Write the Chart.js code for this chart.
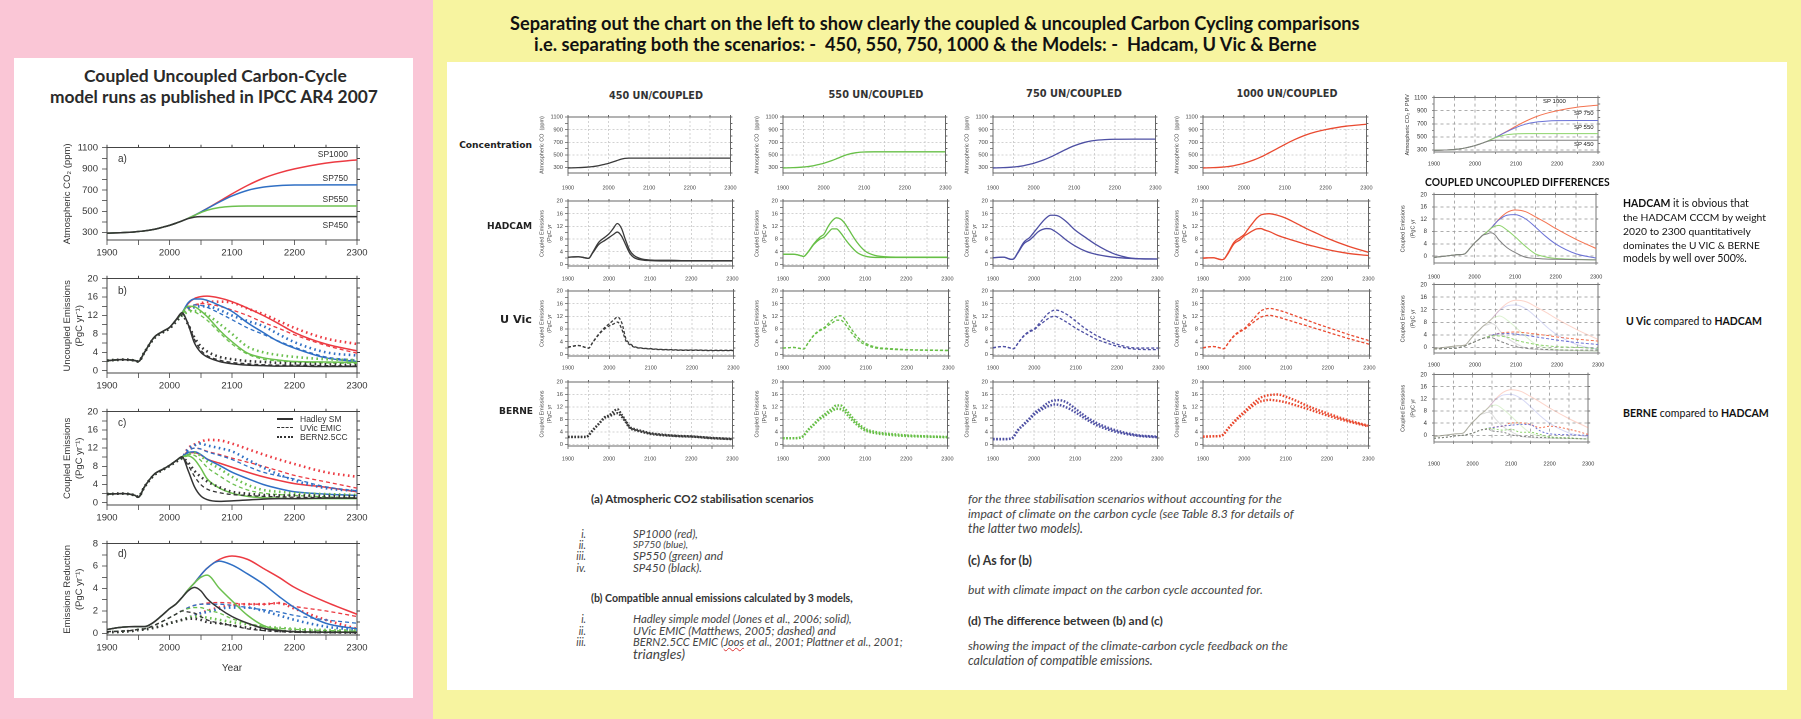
<!DOCTYPE html>
<html><head><meta charset="utf-8">
<script src="https://cdn.jsdelivr.net/npm/chart.js@4.4.1/dist/chart.umd.min.js"></script>
<style>
html,body{margin:0;padding:0}
body{width:1801px;height:719px;position:relative;overflow:hidden;background:#f7f4a0;font-family:Lato,sans-serif}
.bx{position:absolute}
</style></head>
<body>
<div class="bx" style="left:0;top:0;width:433px;height:719px;background:#fac6d6"></div>
<div class="bx" style="left:14px;top:58px;width:399px;height:640px;background:#fff"></div>
<div class="bx" style="left:447px;top:62px;width:1340px;height:628px;background:#fff"></div>
<script>
// ---------------- DATA ----------------
const YEARS = [1900,1925,1945,1950,1960,1975,1990,2000,2010,2020,2030,2040,2050,2060,2080,2100,2125,2150,2175,2200,2250,2300];
const X_LABELS = [1900,2000,2100,2200,2300];
const CONC_TICKS = [300,500,700,900,1100];
const EMI_TICKS = [0,4,8,12,16,20];
const RED_TICKS = [0,2,4,6,8];

// a) atmospheric CO2 (ppm)
const CONC_450  = [295,300,307,310,316,330,352,368,388,410,432,446,450,450,450,450,450,450,450,450,450,450];
const CONC_550  = [295,300,307,310,316,330,352,368,388,410,435,462,488,510,536,547,550,550,550,550,550,550];
const CONC_750  = [295,300,307,310,316,330,352,368,388,410,435,463,493,525,588,645,698,728,742,748,750,750];
const CONC_1000 = [295,300,307,310,316,330,352,368,388,410,435,463,493,527,595,665,745,812,862,900,955,985];

// b) uncoupled emissions (PgC/yr)
const UNC_HAD_450   = [2.2,2.4,2.2,2.0,4.0,7.2,8.6,9.4,11.0,12.6,10.0,6.0,4.0,3.0,2.0,1.5,1.2,1.1,1.0,1.0,0.9,0.9];
const UNC_UVIC_450  = [2.2,2.4,2.2,2.0,4.0,7.2,8.6,9.4,10.9,12.4,10.2,6.8,4.5,3.3,2.3,1.8,1.5,1.3,1.2,1.2,1.1,1.0];
const UNC_BERN_450  = [2.2,2.4,2.2,2.0,4.0,7.0,8.4,9.2,10.6,12.0,10.0,7.2,5.3,4.2,3.0,2.5,2.1,1.9,1.7,1.6,1.4,1.2];
const UNC_HAD_550   = [2.2,2.4,2.2,2.0,4.0,7.2,8.6,9.4,11.0,12.6,14.0,13.9,13.0,11.8,8.8,6.3,3.8,2.8,2.3,2.0,1.9,1.8];
const UNC_UVIC_550  = [2.2,2.4,2.2,2.0,4.0,7.2,8.6,9.4,10.9,12.4,13.2,12.8,12.0,11.0,8.3,5.8,3.6,2.5,2.1,1.9,1.7,1.6];
const UNC_BERN_550  = [2.2,2.4,2.2,2.0,4.0,7.0,8.4,9.2,10.6,12.0,12.8,13.0,12.8,12.2,10.2,8.0,5.2,4.0,3.4,3.0,2.5,2.3];
const UNC_HAD_750   = [2.2,2.4,2.2,2.0,4.0,7.2,8.6,9.4,11.0,12.6,14.8,15.6,15.6,15.3,14.2,12.9,10.4,8.3,6.3,4.9,2.8,2.0];
const UNC_UVIC_750  = [2.2,2.4,2.2,2.0,4.0,7.2,8.6,9.4,10.9,12.4,13.8,14.3,14.2,13.8,12.5,11.1,9.3,7.9,6.4,5.1,3.0,2.3];
const UNC_BERN_750  = [2.2,2.4,2.2,2.0,4.0,7.0,8.4,9.2,10.6,12.0,13.3,13.8,14.0,14.0,13.2,12.0,10.8,9.7,7.9,6.2,4.0,3.3];
const UNC_HAD_1000  = [2.2,2.4,2.2,2.0,4.0,7.2,8.6,9.4,11.0,12.6,14.6,15.7,16.1,16.2,15.8,15.0,13.6,12.0,10.2,8.3,5.8,4.3];
const UNC_UVIC_1000 = [2.2,2.4,2.2,2.0,4.0,7.2,8.6,9.4,10.9,12.4,13.5,14.3,14.6,14.5,14.0,13.2,12.0,10.5,9.2,7.8,5.5,3.8];
const UNC_BERN_1000 = [2.2,2.4,2.2,2.0,4.0,7.0,8.4,9.2,10.6,12.0,13.3,14.0,14.6,15.0,15.0,14.8,13.5,12.3,10.8,9.3,7.0,5.8];

// c) coupled emissions (PgC/yr)
const CPL_HAD_450   = [1.9,2.0,1.6,1.2,3.5,6.2,7.4,8.2,9.2,10.1,7.0,3.5,1.5,0.7,0.3,0.4,0.6,0.8,0.9,0.9,1.0,1.0];
const CPL_UVIC_450  = [1.9,2.0,1.6,1.2,3.5,6.2,7.4,8.2,9.2,9.9,8.2,5.8,4.0,3.0,2.2,1.8,1.6,1.4,1.3,1.2,1.1,1.0];
const CPL_BERN_450  = [1.9,2.0,1.6,1.3,3.5,6.0,7.3,8.1,9.0,9.8,8.8,7.0,5.7,4.7,3.4,2.4,2.0,1.7,1.6,1.6,1.5,1.4];
const CPL_HAD_550   = [1.9,2.0,1.6,1.2,3.5,6.2,7.4,8.2,9.2,10.1,10.3,9.5,7.6,5.3,3.2,2.1,1.4,1.1,1.0,0.9,0.9,0.9];
const CPL_UVIC_550  = [1.9,2.0,1.6,1.2,3.5,6.2,7.4,8.2,9.2,9.9,10.6,10.4,9.3,7.8,5.9,4.2,2.8,2.1,1.8,1.6,1.3,1.1];
const CPL_BERN_550  = [1.9,2.0,1.6,1.3,3.5,6.0,7.3,8.1,9.0,9.8,10.6,11.0,10.3,9.1,7.5,5.7,3.9,2.8,2.4,2.1,1.9,1.7];
const CPL_HAD_750   = [1.9,2.0,1.6,1.2,3.5,6.2,7.4,8.2,9.2,10.1,11.0,11.2,10.6,9.6,8.2,6.7,5.3,4.0,3.1,2.4,1.9,1.6];
const CPL_UVIC_750  = [1.9,2.0,1.6,1.2,3.5,6.2,7.4,8.2,9.2,9.9,11.3,12.0,11.8,11.2,10.4,9.5,8.0,6.7,5.9,5.2,3.5,2.6];
const CPL_BERN_750  = [1.9,2.0,1.6,1.3,3.5,6.0,7.3,8.1,9.0,9.8,11.8,12.6,13.0,12.6,12.0,11.3,9.5,7.7,6.2,4.9,3.2,2.6];
const CPL_HAD_1000  = [1.9,2.0,1.6,1.2,3.5,6.2,7.4,8.2,9.2,10.1,11.0,11.0,10.5,9.6,8.7,7.8,6.7,5.7,4.9,4.2,3.4,2.4];
const CPL_UVIC_1000 = [1.9,2.0,1.6,1.2,3.5,6.2,7.4,8.2,9.2,9.9,11.5,12.0,11.8,11.3,10.6,9.8,8.9,8.0,7.0,6.0,4.6,3.2];
const CPL_BERN_1000 = [1.9,2.0,1.6,1.3,3.5,6.0,7.3,8.1,9.0,9.8,12.0,12.8,13.4,13.8,13.7,13.0,11.8,10.6,9.5,8.5,6.7,5.7];

// d) emissions reduction (PgC/yr)
const RED_HAD_450   = [0.35,0.55,0.6,0.6,0.6,1.0,1.7,2.2,2.6,3.2,3.8,4.1,3.8,3.1,2.2,1.5,0.9,0.45,0.25,0.15,0.1,0.1];
const RED_HAD_550   = [0.35,0.55,0.6,0.6,0.6,1.0,1.7,2.2,2.6,3.2,3.9,4.5,5.0,5.2,4.0,2.9,1.6,0.7,0.3,0.15,0.12,0.12];
const RED_HAD_750   = [0.35,0.55,0.6,0.6,0.6,1.0,1.7,2.2,2.6,3.2,3.9,4.5,5.2,5.8,6.45,6.1,5.3,4.4,3.3,2.3,0.9,0.4];
const RED_HAD_1000  = [0.35,0.55,0.6,0.6,0.6,1.0,1.7,2.2,2.6,3.2,3.9,4.5,5.2,5.8,6.6,6.9,6.6,5.8,5.0,4.1,2.8,1.7];
const RED_UVIC_450  = [0.15,0.2,0.3,0.35,0.4,0.7,1.1,1.4,1.7,2.0,1.9,1.8,1.5,1.2,0.9,0.7,0.4,0.25,0.15,0.1,0.05,0.05];
const RED_UVIC_550  = [0.15,0.2,0.3,0.35,0.4,0.7,1.1,1.4,1.7,2.0,2.2,2.3,2.3,2.1,1.8,1.3,0.9,0.6,0.45,0.35,0.25,0.2];
const RED_UVIC_750  = [0.15,0.2,0.3,0.35,0.4,0.7,1.1,1.4,1.7,2.0,2.3,2.5,2.6,2.6,2.6,2.5,2.3,2.1,1.9,1.6,1.2,0.9];
const RED_UVIC_1000 = [0.15,0.2,0.3,0.35,0.4,0.7,1.1,1.4,1.7,2.0,2.3,2.5,2.6,2.7,2.75,2.7,2.6,2.6,2.7,2.4,2.0,1.5];
const RED_BERN_450  = [0.1,0.15,0.25,0.3,0.35,0.5,0.7,0.9,1.05,1.2,1.3,1.3,1.2,1.0,0.9,0.7,0.5,0.3,0.2,0.15,0.1,0.05];
const RED_BERN_550  = [0.1,0.15,0.25,0.3,0.35,0.5,0.7,0.9,1.05,1.2,1.4,1.5,1.5,1.4,1.2,1.0,0.8,0.6,0.5,0.4,0.3,0.25];
const RED_BERN_750  = [0.1,0.15,0.25,0.3,0.35,0.5,0.7,0.9,1.05,1.2,1.4,1.6,1.8,1.9,2.2,2.3,2.3,2.0,1.6,1.2,0.6,0.3];
const RED_BERN_1000 = [0.1,0.15,0.25,0.3,0.35,0.5,0.7,0.9,1.05,1.2,1.4,1.6,1.8,2.0,2.3,2.5,2.6,2.6,2.7,2.2,1.2,0.4];

// middle grid: uncoupled (U) and coupled (C) per model
const G450_HAD_U   = [2.3,2.4,2.0,1.9,3.8,7.0,8.6,9.7,11.3,12.9,11.4,7.7,4.5,2.9,1.7,1.4,1.3,1.3,1.2,1.2,1.2,1.2];
const G450_HAD_C   = [2.3,2.4,2.0,1.9,3.6,6.3,7.6,8.5,9.4,10.2,9.0,6.3,3.6,2.2,1.4,1.2,1.1,1.1,1.1,1.1,1.1,1.1];
const G550_HAD_U   = [3.2,3.2,2.7,2.5,3.8,6.5,8.6,9.6,12.0,13.8,14.7,14.3,13.0,11.0,7.0,4.2,2.8,2.4,2.3,2.3,2.3,2.3];
const G550_HAD_C   = [3.2,3.2,2.7,2.5,3.7,6.3,8.0,8.6,10.0,11.2,11.2,10.0,8.2,6.5,3.8,2.6,2.2,2.2,2.2,2.2,2.2,2.2];
const G750_HAD_U   = [2.1,2.3,1.6,1.7,3.7,7.0,8.6,10.2,11.8,13.4,14.7,15.5,15.5,15.2,13.3,10.8,8.5,6.3,4.5,3.1,1.8,1.7];
const G750_HAD_C   = [2.1,2.3,1.6,1.7,3.5,6.5,7.8,9.0,10.3,11.0,11.3,11.2,10.5,9.6,7.5,5.8,4.2,3.2,2.6,2.2,1.8,1.7];
const G1000_HAD_U  = [2.0,2.1,1.5,1.6,3.5,7.0,8.5,9.5,11.3,13.0,14.6,15.6,15.9,16.0,15.5,14.6,13.0,11.3,9.8,8.3,5.8,3.8];
const G1000_HAD_C  = [2.0,2.1,1.5,1.6,3.3,6.5,7.8,9.0,9.8,10.6,11.2,11.3,10.8,10.4,9.2,8.3,7.3,6.3,5.5,4.7,3.5,2.8];
const G450_UVIC_U  = [2.3,2.8,2.1,2.0,3.9,6.5,8.6,9.7,10.8,11.8,10.0,5.0,3.4,2.5,2.0,1.8,1.6,1.5,1.4,1.4,1.3,1.3];
const G450_UVIC_C  = [2.3,2.8,2.1,2.0,3.8,6.3,8.2,9.0,9.6,10.2,8.0,4.3,3.0,2.3,1.9,1.7,1.5,1.4,1.3,1.3,1.2,1.2];
const G550_UVIC_U  = [2.0,2.2,1.8,1.7,3.5,6.2,7.8,8.5,9.8,11.0,12.0,12.2,11.0,9.0,5.5,3.5,2.3,1.9,1.7,1.5,1.4,1.3];
const G550_UVIC_C  = [2.0,2.2,1.8,1.7,3.4,6.0,7.5,8.2,9.2,10.0,10.8,10.8,9.6,7.8,4.6,3.0,2.0,1.7,1.5,1.4,1.3,1.2];
const G750_UVIC_U  = [2.1,2.5,1.9,1.8,3.5,6.0,7.5,8.0,9.5,11.0,12.5,13.5,14.0,13.8,12.5,10.5,8.0,6.0,4.5,3.2,2.0,2.0];
const G750_UVIC_C  = [2.1,2.5,1.9,1.8,3.4,5.8,7.2,7.8,9.0,10.0,11.0,11.8,12.0,11.5,10.0,8.3,6.5,4.8,3.6,2.6,1.6,1.5];
const G1000_UVIC_U = [2.1,2.5,1.9,1.8,3.5,6.0,7.5,8.2,9.6,11.0,12.5,13.8,14.3,14.5,14.0,13.2,12.0,10.8,9.6,8.5,6.3,4.3];
const G1000_UVIC_C = [2.1,2.5,1.9,1.8,3.4,5.8,7.2,7.9,9.0,10.0,11.0,11.8,12.2,12.3,11.8,11.0,10.0,9.0,8.0,7.0,5.0,3.2];
const G450_BERN_U  = [2.4,2.4,2.4,2.9,4.5,6.6,8.8,9.3,10.4,11.3,9.6,7.7,5.6,5.0,4.3,3.6,3.2,2.9,2.7,2.6,2.1,1.8];
const G450_BERN_C  = [2.4,2.4,2.4,2.9,4.5,6.6,8.6,9.0,9.6,10.0,9.0,7.3,5.3,4.7,4.0,3.4,3.0,2.8,2.6,2.5,2.0,1.7];
const G550_BERN_U  = [2.0,2.0,2.3,2.8,4.5,6.5,8.5,9.5,10.6,11.5,12.5,12.5,11.5,10.0,7.0,5.0,4.0,3.5,3.2,2.9,2.6,2.4];
const G550_BERN_C  = [2.0,2.0,2.3,2.8,4.4,6.3,8.2,9.0,10.0,10.8,11.4,11.3,10.5,9.0,6.3,4.5,3.6,3.2,2.9,2.7,2.5,2.3];
const G750_BERN_U  = [1.7,1.7,1.9,2.4,4.5,6.5,8.5,10.0,11.0,12.0,13.0,13.8,14.1,14.2,13.4,11.5,9.0,7.0,5.6,4.5,3.0,2.5];
const G750_BERN_C  = [1.7,1.7,1.9,2.4,4.4,6.3,8.2,9.5,10.5,11.3,12.0,12.5,12.8,12.7,11.8,10.3,8.2,6.3,5.0,4.0,2.8,2.3];
const G1000_BERN_U = [2.5,2.6,2.8,3.3,5.0,7.3,9.3,10.5,11.8,13.0,14.1,15.0,15.5,15.8,16.0,15.3,14.0,12.5,11.2,10.0,7.8,6.0];
const G1000_BERN_C = [2.5,2.6,2.8,3.3,4.9,7.1,9.0,10.1,11.3,12.3,13.2,13.8,14.1,14.3,14.0,13.5,12.5,11.5,10.4,9.3,7.4,5.8];

// right column: coupled/uncoupled differences
const DIF_HAD_450   = [-0.4,0.0,0.3,0.4,0.5,0.7,2.8,4.3,5.5,6.8,7.2,7.6,7.0,5.3,2.8,1.2,-0.3,-0.7,-0.9,-1.0,-1.1,-1.2];
const DIF_HAD_550   = [-0.4,0.0,0.3,0.4,0.5,0.7,2.8,4.3,5.5,6.8,7.8,9.0,9.7,10.0,8.5,6.3,3.3,0.8,-0.2,-0.7,-1.0,-1.2];
const DIF_HAD_750   = [-0.4,0.0,0.3,0.4,0.5,0.7,2.8,4.3,5.5,6.8,7.8,9.0,10.5,11.8,13.3,13.5,12.2,9.5,6.5,4.0,0.8,-0.6];
const DIF_HAD_1000  = [-0.4,0.0,0.3,0.4,0.5,0.7,2.8,4.3,5.5,6.8,7.8,9.0,10.5,12.0,14.2,15.0,14.5,12.8,11.0,9.0,5.5,2.5];
const DIF_UVIC_450  = [-0.5,-0.4,-0.3,-0.3,-0.1,0.4,1.3,1.8,2.4,2.9,3.0,3.1,2.6,2.0,1.0,0.2,-0.3,-0.5,-0.7,-0.8,-0.9,-0.9];
const DIF_UVIC_550  = [-0.5,-0.4,-0.3,-0.3,-0.1,0.4,1.3,1.8,2.4,2.9,3.3,3.6,3.7,3.6,3.2,2.3,1.5,0.9,0.5,0.2,0.0,-0.5];
const DIF_UVIC_750  = [-0.5,-0.4,-0.3,-0.3,-0.1,0.4,1.3,1.8,2.4,2.9,3.3,3.8,4.2,4.3,4.4,4.2,3.8,3.3,2.8,2.3,1.5,0.9];
const DIF_UVIC_1000 = [-0.5,-0.4,-0.3,-0.3,-0.1,0.4,1.3,1.8,2.4,2.9,3.3,3.8,4.2,4.5,4.8,4.9,4.6,4.2,3.8,3.3,2.6,2.0];
const DIF_BERN_450  = [-1.0,-0.7,-0.4,-0.3,-0.1,0.0,0.4,0.7,1.2,1.7,1.9,2.0,1.5,1.3,1.0,0.2,-0.3,-0.5,-0.7,-0.8,-1.0,-1.2];
const DIF_BERN_550  = [-1.0,-0.7,-0.4,-0.3,-0.1,0.0,0.4,0.7,1.2,1.7,2.0,2.2,2.3,2.0,1.7,2.0,1.0,1.0,0.3,-0.5,-0.8,-1.3];
const DIF_BERN_750  = [-1.0,-0.7,-0.4,-0.3,-0.1,0.0,0.4,0.7,1.2,1.7,2.0,2.3,2.5,2.7,3.1,3.3,3.6,3.5,1.5,0.5,0.2,0.0];
const DIF_BERN_1000 = [-1.0,-0.7,-0.4,-0.3,-0.1,0.0,0.4,0.7,1.2,1.7,2.0,2.3,2.5,2.8,3.0,4.1,4.1,3.6,2.5,3.0,2.0,0.3];

// ---------------- STYLE ----------------
const LC = {k:'#333333', g:'#6cc04f', b:'#2f6fc4', r:'#ec3a42'};
const MC = {k:'#3a3a3a', g:'#67bf47', b:'#4d4fa3', r:'#e9492f'};
const RC = {k:'#808080', g:'#8dd36b', b:'#6b72d6', r:'#f4724f'};
const RF = {k:'rgba(128,128,128,0.28)', g:'rgba(141,211,107,0.3)', b:'rgba(107,114,214,0.28)', r:'rgba(244,114,79,0.3)'};
const CLEAR = 'rgba(0,0,0,0)';

function chart(p) {
  const W = p.ml + p.w + p.mr, H = p.mt + p.h + p.mb;
  const cv = document.createElement('canvas');
  cv.width = W; cv.height = H;
  cv.style.cssText = `position:absolute;left:${p.l - p.ml}px;top:${p.t - p.mt}px;width:${W}px;height:${H}px`;
  document.body.appendChild(cv);
  const tf = {family:'Liberation Sans', size:p.fs};
  const yf = {family:'Liberation Sans', size:p.yfs || p.fs};
  const xGrid = () => p.gcolor ? p.gcolor : CLEAR;
  const yGrid = (c) => (p.gcolor && c.tick && p.yl.includes(c.tick.value)) ? p.gcolor : CLEAR;
  const bord = {color:p.fc, width:p.fw || 1, dash:p.gdash || []};
  new Chart(cv, {
    type:'line',
    data:{datasets:p.series.map(s => ({
      data:YEARS.map((x,i) => ({x, y:s.d[i]})),
      borderColor:s.c, borderWidth:s.w, borderDash:s.dash || [], borderCapStyle:'butt',
      pointRadius:0, cubicInterpolationMode:'monotone', fill:false}))},
    options:{
      responsive:false, animation:false, devicePixelRatio:2, events:[],
      layout:{padding:0},
      plugins:{legend:{display:false}, tooltip:{enabled:false}, title:{display:false}},
      scales:{
        x:{type:'linear', position:'bottom', min:1900, max:2300,
          afterFit:s => { s.height = p.mb; },
          ticks:{stepSize:50, autoSkip:false, maxRotation:0, minRotation:0, includeBounds:false,
            padding:p.xpad, font:tf, color:p.tc,
            callback:v => X_LABELS.includes(v) ? String(v) : ''},
          grid:{drawOnChartArea:!!p.gcolor, color:xGrid, tickColor:p.kc, tickLength:p.tl, lineWidth:0.8},
          border:bord,
          title: p.xt ? {display:true, text:p.xt, font:{family:'Liberation Sans', size:p.xts}, color:p.tc, padding:{top:0, bottom:p.xtpad}} : {display:false}},
        x2:{type:'linear', axis:'x', position:'top', min:1900, max:2300,
          afterFit:s => { s.height = p.mt; },
          ticks:{display:false, stepSize:50},
          grid:{drawOnChartArea:false, tickColor:p.kc, tickLength:p.tl2},
          border:{color:p.fc, width:p.fw || 1}},
        y:{type:'linear', position:'left', min:p.ymin, max:p.ymax,
          afterFit:s => { s.width = p.ml; },
          ticks:{stepSize:p.ys, autoSkip:false, includeBounds:false, padding:p.ypad, font:yf, color:p.tc,
            callback:v => p.yl.includes(v) ? String(v) : ''},
          grid:{drawOnChartArea:!!p.gcolor, color:yGrid, tickColor:p.kc, tickLength:p.tl, lineWidth:0.8},
          border:bord,
          title: p.yt ? {display:true, text:p.yt, font:{family:'Liberation Sans', size:p.yts, lineHeight:p.ytlh}, color:p.tc, padding:{top:p.ytpad, bottom:0}} : {display:false}},
        y2:{type:'linear', axis:'y', position:'right', min:p.ymin, max:p.ymax,
          afterFit:s => { s.width = p.mr; },
          ticks:{display:false, stepSize:p.ys},
          grid:{drawOnChartArea:false, tickColor:p.kc, tickLength:p.tl2},
          border:{color:p.fc, width:p.fw || 1}}
      }
    }
  });
}

function T(html, x, y, o) {
  o = o || {};
  const d = document.createElement('div');
  d.innerHTML = html;
  const s = d.style;
  s.position = 'absolute'; s.whiteSpace = 'pre'; s.lineHeight = '1';
  s.fontFamily = o.f || 'Lato, sans-serif';
  const fs = o.s || 10;
  s.fontSize = fs + 'px';
  s.fontWeight = o.b ? '700' : '400';
  if (o.i) s.fontStyle = 'italic';
  s.color = o.c || '#222';
  s.left = x + 'px'; s.top = y + 'px';
  document.body.appendChild(d);
  if (o.w) {
    const w = d.getBoundingClientRect().width;
    if (w > 0) s.fontSize = (fs * o.w / w) + 'px';
  }
  const a = o.a || 'l';
  s.transform = a === 'c' ? 'translate(-50%,-50%)' : (a === 'r' ? 'translate(-100%,-50%)' : 'translateY(-50%)');
  return d;
}

// ---------------- LEFT PANEL ----------------
const DASH = [4,3], TRI = [1.6,3.4];
function leftSeries(had, uvic, bern) {
  const out = [];
  ['k','g','b','r'].forEach((k,i) => {
    out.push({d:had[i], c:LC[k], w:1.5});
    out.push({d:uvic[i], c:LC[k], w:1.3, dash:DASH});
    out.push({d:bern[i], c:LC[k], w:2.6, dash:TRI});
  });
  return out;
}
const LP = {l:107, w:250, ml:52, mr:14, mt:8, mb:22, fs:9.5, tl:5, tl2:3, xpad:2, ypad:4,
  tc:'#333', fc:'#444', kc:'#444', yts:9.5, ytpad:6, ytlh:1.3};
chart(Object.assign({}, LP, {t:146, h:94, ymin:230, ymax:1100, ys:100, yl:CONC_TICKS,
  yt:'Atmospheric CO\u2082 (ppm)',
  series:[{d:CONC_450,c:LC.k,w:1.5},{d:CONC_550,c:LC.g,w:1.5},{d:CONC_750,c:LC.b,w:1.5},{d:CONC_1000,c:LC.r,w:1.5}]}));
chart(Object.assign({}, LP, {t:277, h:96, ymin:-0.5, ymax:20, ys:2, yl:EMI_TICKS,
  yt:['Uncoupled Emissions','(PgC yr\u207B\u00B9)'],
  series:leftSeries([UNC_HAD_450,UNC_HAD_550,UNC_HAD_750,UNC_HAD_1000],
                    [UNC_UVIC_450,UNC_UVIC_550,UNC_UVIC_750,UNC_UVIC_1000],
                    [UNC_BERN_450,UNC_BERN_550,UNC_BERN_750,UNC_BERN_1000])}));
chart(Object.assign({}, LP, {t:410, h:95, ymin:-0.5, ymax:20, ys:2, yl:EMI_TICKS,
  yt:['Coupled Emissions','(PgC yr\u207B\u00B9)'],
  series:leftSeries([CPL_HAD_450,CPL_HAD_550,CPL_HAD_750,CPL_HAD_1000],
                    [CPL_UVIC_450,CPL_UVIC_550,CPL_UVIC_750,CPL_UVIC_1000],
                    [CPL_BERN_450,CPL_BERN_550,CPL_BERN_750,CPL_BERN_1000])}));
chart(Object.assign({}, LP, {t:542, h:93, mb:42, ymin:-0.15, ymax:8, ys:1, yl:RED_TICKS,
  yt:['Emissions Reduction','(PgC yr\u207B\u00B9)'], xt:'Year', xts:10, xtpad:3,
  series:leftSeries([RED_HAD_450,RED_HAD_550,RED_HAD_750,RED_HAD_1000],
                    [RED_UVIC_450,RED_UVIC_550,RED_UVIC_750,RED_UVIC_1000],
                    [RED_BERN_450,RED_BERN_550,RED_BERN_750,RED_BERN_1000])}));

T('Coupled Uncoupled Carbon-Cycle', 84, 76, {b:1, s:16, w:263, c:'#2a2a2a'});
T('model runs as published in IPCC AR4 2007', 50, 97, {b:1, s:16, w:328, c:'#2a2a2a'});
const LF = {f:'Liberation Sans', s:10, c:'#333'};
T('a)', 118, 159, LF); T('b)', 118, 291, LF); T('c)', 118, 423, LF); T('d)', 118, 554, LF);
const SPF = {f:'Liberation Sans', s:8.5, c:'#333', a:'r'};
T('SP1000', 348, 154, SPF); T('SP750', 348, 178, SPF); T('SP550', 348, 199, SPF); T('SP450', 348, 225, SPF);
// legend in c)
[['Hadley SM','solid',2],['UVic EMIC','dashed',1.6],['BERN2.5CC','dotted',2.4]].forEach((e,i) => {
  const y = 419 + i*9;
  const ln = document.createElement('div');
  ln.style.cssText = `position:absolute;left:277px;top:${y - 1}px;width:16px;height:0;border-top:${e[2]}px ${e[1]} #333`;
  document.body.appendChild(ln);
  T(e[0], 300, y, {f:'Liberation Sans', s:8.5, c:'#333'});
});

// ---------------- MIDDLE GRID ----------------
T('Separating out the chart on the left to show clearly the coupled &amp; uncoupled Carbon Cycling comparisons', 510, 23, {b:1, s:17, w:850, c:'#111'});
T('i.e. separating both the scenarios: -  450, 550, 750, 1000 &amp; the Models: -  Hadcam, U Vic &amp; Berne', 534, 44, {b:1, s:17, w:783, c:'#111'});

const COLX = [568, 783, 993, 1203];
const COLW = [169, 169, 169, 170];
const MP = {mr:8, mt:6, fs:5.5, yfs:5.8, tl:3, tl2:2, ypad:2, tc:'#444', fc:'#666', kc:'#666',
  gcolor:'#c8c8c8', gdash:[2,2], yts:5.5, ytlh:1.35};
const CONC_SETS = [[CONC_450, MC.k], [CONC_550, MC.g], [CONC_750, MC.b], [CONC_1000, MC.r]];
const HAD_SETS = [[G450_HAD_U,G450_HAD_C,MC.k],[G550_HAD_U,G550_HAD_C,MC.g],[G750_HAD_U,G750_HAD_C,MC.b],[G1000_HAD_U,G1000_HAD_C,MC.r]];
const UVIC_SETS = [[G450_UVIC_U,G450_UVIC_C,MC.k],[G550_UVIC_U,G550_UVIC_C,MC.g],[G750_UVIC_U,G750_UVIC_C,MC.b],[G1000_UVIC_U,G1000_UVIC_C,MC.r]];
const BERN_SETS = [[G450_BERN_U,G450_BERN_C,MC.k],[G550_BERN_U,G550_BERN_C,MC.g],[G750_BERN_U,G750_BERN_C,MC.b],[G1000_BERN_U,G1000_BERN_C,MC.r]];
const EMI_TITLE = ['Coupled Emissions','(PgC yr'];
for (let i = 0; i < 4; i++) {
  chart(Object.assign({}, MP, {l:COLX[i], w:COLW[i], t:117, h:56, ml:32, mb:24, xpad:8.5, ytpad:2.3,
    ymin:215, ymax:1100, ys:100, yl:CONC_TICKS, yt:'Atmospheric CO  (ppm)',
    series:[{d:CONC_SETS[i][0], c:CONC_SETS[i][1], w:1.3}]}));
  chart(Object.assign({}, MP, {l:COLX[i], w:COLW[i], t:201, h:65, ml:32, mb:20, xpad:6.5, ytpad:2.3,
    ymin:-0.5, ymax:20, ys:2, yl:EMI_TICKS, yt:EMI_TITLE,
    series:[{d:HAD_SETS[i][0], c:HAD_SETS[i][2], w:1.3},{d:HAD_SETS[i][1], c:HAD_SETS[i][2], w:1.3}]}));
  chart(Object.assign({}, MP, {l:COLX[i], w:COLW[i], t:291, h:65, ml:32, mb:20, xpad:5.5, ytpad:2.3,
    ymin:-0.5, ymax:20, ys:2, yl:EMI_TICKS, yt:EMI_TITLE,
    series:[{d:UVIC_SETS[i][0], c:UVIC_SETS[i][2], w:1.3, dash:[3,2]},{d:UVIC_SETS[i][1], c:UVIC_SETS[i][2], w:1.3, dash:[3,2]}]}));
  chart(Object.assign({}, MP, {l:COLX[i], w:COLW[i], t:382, h:64, ml:32, mb:20, xpad:6.5, ytpad:2.3,
    ymin:-0.5, ymax:20, ys:2, yl:EMI_TICKS, yt:EMI_TITLE,
    series:[{d:BERN_SETS[i][0], c:BERN_SETS[i][2], w:2.4, dash:[1.6,1.6]},{d:BERN_SETS[i][1], c:BERN_SETS[i][2], w:2.4, dash:[1.6,1.6]}]}));
}
const CT = {f:'DejaVu Sans', b:1, s:9, c:'#333', a:'c'};
T('450 UN/COUPLED', 656, 96, Object.assign({w:94}, CT));
T('550 UN/COUPLED', 876, 95, Object.assign({w:95}, CT));
T('750 UN/COUPLED', 1074, 94, Object.assign({w:96}, CT));
T('1000 UN/COUPLED', 1287, 94, Object.assign({w:101}, CT));
const RL = {f:'DejaVu Sans', b:1, s:9, c:'#222', a:'r'};
T('Concentration', 532, 146, Object.assign({w:73}, RL));
T('HADCAM', 532, 227, Object.assign({w:45}, RL));
T('U Vic', 532, 320, Object.assign({w:32}, RL));
T('BERNE', 533, 412, Object.assign({w:34}, RL));

// bottom notes
const BB = {b:1, s:10.5, c:'#333'};
const BI = {i:1, s:10.5, c:'#444'};
T('(a) Atmospheric CO2 stabilisation scenarios', 591, 499, Object.assign({w:223}, BB));
[['i.',534,'SP1000 (red),',65],['ii.',545,'SP750 (blue),',55],['iii.',556,'SP550 (green) and',90],['iv.',568,'SP450 (black).',69]].forEach(r => {
  T(r[0], 586, r[1], Object.assign({a:'r'}, BI));
  T(r[2], 633, r[1], Object.assign({w:r[3]}, BI));
});
T('(b) Compatible annual emissions calculated by 3 models,', 591, 598, Object.assign({w:262}, BB));
[['i.',619,'Hadley simple model (Jones et al., 2006; solid),',219],
 ['ii.',631,'UVic EMIC (Matthews, 2005; dashed) and',203],
 ['iii.',642,'BERN2.5CC EMIC (<span style="text-decoration:underline wavy #d33;text-decoration-thickness:1px">Joos</span> et al., 2001; Plattner et al., 2001;',270]].forEach(r => {
  T(r[0], 586, r[1], Object.assign({a:'r'}, BI));
  T(r[2], 633, r[1], Object.assign({w:r[3]}, BI));
});
T('triangles)', 633, 654, Object.assign({w:52}, BI));
T('for the three stabilisation scenarios without accounting for the', 968, 499, Object.assign({w:314}, BI));
T('impact of climate on the carbon cycle (see Table 8.3 for details of', 968, 514, Object.assign({w:326}, BI));
T('the latter two models).', 968, 529, Object.assign({w:115}, BI));
T('(c) As for (b)', 968, 561, Object.assign({w:64}, BB));
T('but with climate impact on the carbon cycle accounted for.', 968, 590, Object.assign({w:295}, BI));
T('(d) The difference between (b) and (c)', 968, 621, Object.assign({w:195}, BB));
T('showing the impact of the climate-carbon cycle feedback on the', 968, 646, Object.assign({w:320}, BI));
T('calculation of compatible emissions.', 968, 661, Object.assign({w:185}, BI));

// ---------------- RIGHT COLUMN ----------------
const RP = {l:1434, w:169, mr:8, mt:6, fs:5.5, yfs:6, tl:2, tl2:2, ypad:5, tc:'#333', fc:'#777', kc:'#777',
  gcolor:'#9a9a9a', gdash:[3,3], yts:5.5};
chart(Object.assign({}, RP, {t:95, h:57, ml:34, mb:18, xpad:6.7, ymin:270, ymax:1100, ys:100, yl:CONC_TICKS,
  yt:'Atmospheric CO\u2082 P PMV', ytpad:4, ytlh:1.3,
  series:[{d:CONC_450,c:RC.k,w:1},{d:CONC_550,c:RC.g,w:1},{d:CONC_750,c:RC.b,w:1},{d:CONC_1000,c:RC.r,w:1}]}));
const HADDIF = [[DIF_HAD_450,'k'],[DIF_HAD_550,'g'],[DIF_HAD_750,'b'],[DIF_HAD_1000,'r']];
chart(Object.assign({}, RP, {t:192, h:71, ml:36, mb:18, xpad:8.7, ymin:-2.2, ymax:20, ys:4, yl:EMI_TICKS,
  yt:EMI_TITLE, ytpad:0, ytlh:1.8,
  series:HADDIF.map(e => ({d:e[0], c:RC[e[1]], w:1}))}));
chart(Object.assign({}, RP, {t:282, h:71, ml:36, mb:18, xpad:6.7, ymin:-1.8, ymax:20, ys:4, yl:EMI_TICKS,
  yt:EMI_TITLE, ytpad:0, ytlh:1.8,
  series:HADDIF.map(e => ({d:e[0], c:RF[e[1]], w:1})).concat(
    [[DIF_UVIC_450,'k'],[DIF_UVIC_550,'g'],[DIF_UVIC_750,'b'],[DIF_UVIC_1000,'r']].map(e => ({d:e[0], c:RC[e[1]], w:1, dash:[3,2]})))}));
chart(Object.assign({}, RP, {t:372, h:70, ml:36, mb:28, xpad:16.7, ymin:-2.2, ymax:20, ys:4, yl:EMI_TICKS,
  yt:EMI_TITLE, ytpad:0, ytlh:1.8,
  series:HADDIF.map(e => ({d:e[0], c:RF[e[1]], w:1})).concat(
    [[DIF_BERN_450,'k'],[DIF_BERN_550,'g'],[DIF_BERN_750,'b'],[DIF_BERN_1000,'r']].map(e => ({d:e[0], c:RC[e[1]], w:1, dash:[2,2]})))}));
const SPR = {f:'Liberation Sans', s:6, c:'#222'};
T('SP 1000', 1543, 101, SPR); T('SP 750', 1574, 113, SPR); T('SP 550', 1574, 127, SPR); T('SP 450', 1574, 144, SPR);
T('COUPLED UNCOUPLED DIFFERENCES', 1425, 182, {b:1, s:12, w:185, c:'#111'});
const PR = {s:12, c:'#111'};
T('<b>HADCAM</b> it is obvious that', 1623, 203, Object.assign({w:126}, PR));
T('the HADCAM CCCM by weight', 1623, 217, Object.assign({w:143}, PR));
T('2020 to 2300 quantitatively', 1623, 231, Object.assign({w:128}, PR));
T('dominates the U VIC &amp; BERNE', 1623, 245, Object.assign({w:137}, PR));
T('models by well over 500%.', 1623, 258, Object.assign({w:124}, PR));
T('<b>U Vic</b> compared to <b>HADCAM</b>', 1626, 321, Object.assign({w:136}, PR));
T('<b>BERNE</b> compared to <b>HADCAM</b>', 1623, 413, Object.assign({w:146}, PR));
</script>
</body></html>
